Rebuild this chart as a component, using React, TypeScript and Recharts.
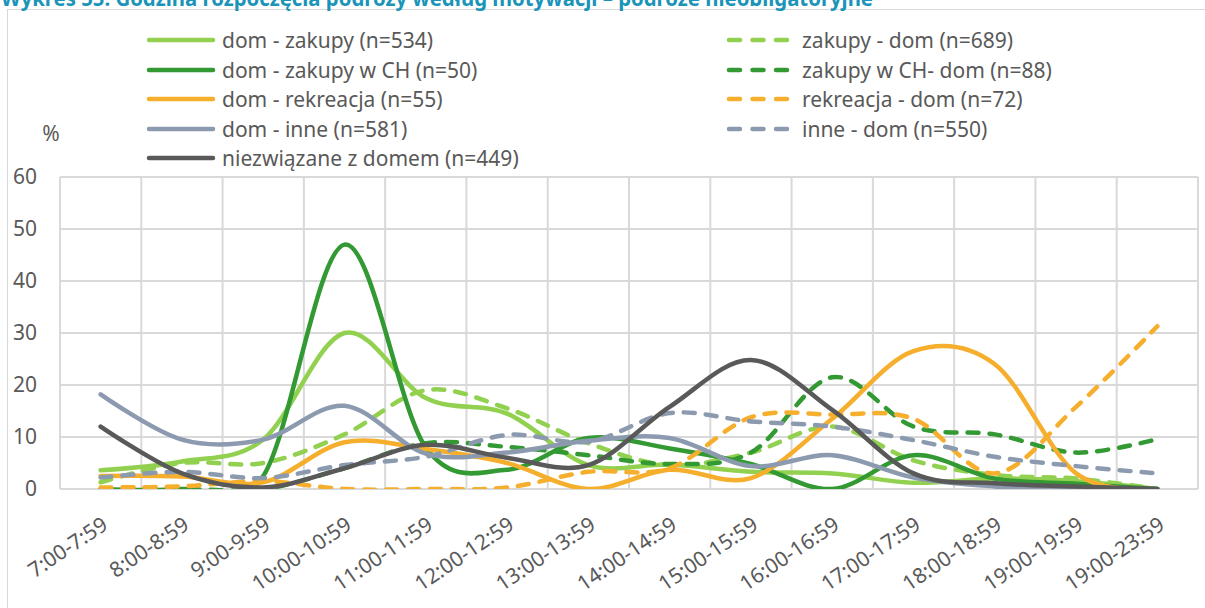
import React from "react";
import { LineChart, Line, XAxis, YAxis, CartesianGrid, Legend } from "recharts";

// Godzina rozpoczęcia podróży według motywacji – podróże nieobligatoryjne (%)
const categories = [
  "7:00-7:59", "8:00-8:59", "9:00-9:59", "10:00-10:59", "11:00-11:59", "12:00-12:59", "13:00-13:59",
  "14:00-14:59", "15:00-15:59", "16:00-16:59", "17:00-17:59", "18:00-18:59", "19:00-19:59", "19:00-23:59",
];

const domZakupy = [3.6, 5.3, 9.5, 30, 17.5, 14.5, 4.6, 4.7, 3.3, 3, 1.2, 2, 1.5, 0];
const zakupyDom = [1.3, 5, 5, 10.5, 19, 15.5, 8.8, 4.6, 7, 12, 5.5, 2.7, 2, 0];
const domZakupyCH = [0, 0, 2.5, 47, 8, 3.7, 9.8, 7.8, 4.8, 0, 6.5, 2, 1, 0];
const zakupyCHDom = [0, 0, 0, 4, 8.8, 8.1, 6.5, 4.8, 7, 21.5, 12, 10.5, 7, 9.6];
const domRekreacja = [2.5, 2.4, 1.3, 9, 7.7, 5, 0, 3.7, 2.1, 13.5, 26.5, 24, 3, 0];
const rekreacjaDom = [0.3, 0.5, 1.5, 0, 0, 0.3, 3.3, 4, 13.8, 14.3, 13.5, 3, 15.8, 31.3];
const domInne = [18.2, 9.5, 9.5, 16, 6.8, 7, 9.3, 9.8, 4.4, 6.5, 2.2, 0.5, 0, 0];
const inneDom = [2.2, 3.3, 2.1, 4.6, 6.2, 10.4, 9.1, 14.6, 13, 12, 9.4, 6.2, 4.4, 3];
const niezwiazane = [12, 3, 0.3, 4, 8.5, 6, 4.6, 15.8, 24.8, 15.2, 3, 1.1, 0.5, 0];

const yTicks = [0, 10, 20, 30, 40, 50, 60];

const LIGHT_GREEN = "#92D050";
const DARK_GREEN = "#339933";
const ORANGE = "#F6AE2D";
const BLUE_GREY = "#8C9AB0";
const DARK_GREY = "#595959";
const TEXT = "#595959";
const FONT = "'Noto Sans', 'Open Sans', sans-serif";

const series = [
  { key: "s1", name: "dom - zakupy (n=534)", color: LIGHT_GREEN, dashed: false, values: domZakupy },
  { key: "s2", name: "zakupy - dom (n=689)", color: LIGHT_GREEN, dashed: true, values: zakupyDom },
  { key: "s3", name: "dom - zakupy w CH (n=50)", color: DARK_GREEN, dashed: false, values: domZakupyCH },
  { key: "s4", name: "zakupy w CH- dom (n=88)", color: DARK_GREEN, dashed: true, values: zakupyCHDom },
  { key: "s5", name: "dom - rekreacja (n=55)", color: ORANGE, dashed: false, values: domRekreacja },
  { key: "s6", name: "rekreacja - dom (n=72)", color: ORANGE, dashed: true, values: rekreacjaDom },
  { key: "s7", name: "dom - inne (n=581)", color: BLUE_GREY, dashed: false, values: domInne },
  { key: "s8", name: "inne - dom (n=550)", color: BLUE_GREY, dashed: true, values: inneDom },
  { key: "s9", name: "niezwiązane z domem (n=449)", color: DARK_GREY, dashed: false, values: niezwiazane },
];

const data = categories.map((cat, i) => {
  const row: Record<string, any> = { cat };
  series.forEach((s) => (row[s.key] = s.values[i]));
  return row;
});

// Excel-like smoothing (Catmull-Rom, tension 0) as a d3 curve factory
function excelSmooth(context: any) {
  let x0 = NaN, y0 = NaN, x1 = NaN, y1 = NaN, x2 = NaN, y2 = NaN, n = 0;
  const k = 1 / 6;
  const seg = (x: number, y: number) =>
    context.bezierCurveTo(x1 + k * (x2 - x0), y1 + k * (y2 - y0), x2 + k * (x1 - x), y2 + k * (y1 - y), x2, y2);
  return {
    areaStart() {},
    areaEnd() {},
    lineStart() {
      x0 = x1 = x2 = y0 = y1 = y2 = NaN;
      n = 0;
    },
    lineEnd() {
      if (n === 2) context.lineTo(x2, y2);
      else if (n === 3) seg(x1, y1);
    },
    point(x: number, y: number) {
      x = +x;
      y = +y;
      if (n === 0) {
        n = 1;
        context.moveTo(x, y);
      } else if (n === 1) {
        n = 2;
        x1 = x;
        y1 = y;
      } else {
        if (n === 2) n = 3;
        seg(x, y);
      }
      x0 = x1; x1 = x2; x2 = x;
      y0 = y1; y1 = y2; y2 = y;
    },
  };
}

const DASH = "11 11";

const XTick = ({ x, y, payload }: any) => {
  const ax = x + 8.5;
  const ay = y + 39;
  return (
    <text x={ax} y={ay} transform={`rotate(-34, ${ax}, ${ay})`} textAnchor="end" fill={TEXT} fontSize={21} fontFamily={FONT}>
      {payload.value}
    </text>
  );
};

// legend drawn in series order (two columns, row by row, like Excel)
const LegendBox = () => (
  <div
    style={{
      display: "grid",
      gridTemplateColumns: "580px 420px",
      marginLeft: 146,
      fontFamily: FONT,
      fontSize: 21,
      color: TEXT,
    }}
  >
    {series.map((s) => (
      <div key={s.key} style={{ display: "flex", alignItems: "center", height: 29.5, whiteSpace: "nowrap" }}>
        <svg width={70} height={10} style={{ marginRight: 6, flex: "none" }}>
          <line
            x1={3}
            y1={5}
            x2={s.dashed ? 62 : 67}
            y2={5}
            stroke={s.color}
            strokeWidth={4.5}
            strokeLinecap="round"
            strokeDasharray={s.dashed ? "11 12.5" : undefined}
          />
        </svg>
        <span>{s.name}</span>
      </div>
    ))}
  </div>
);

export default function App() {
  return (
    <div style={{ position: "absolute", left: 0, top: 0, width: 1205, height: 608, background: "#fff", overflow: "hidden" }}>
      <div
        style={{
          position: "absolute",
          left: 7,
          top: 9,
          width: 1220,
          height: 640,
          border: "1.5px solid #d9d9d9",
        }}
      />
      <svg width={1205} height={608} style={{ position: "absolute", left: 0, top: 0 }}>
        <text x={1} y={5.5} fill="#1A94B8" fontWeight={700} fontSize={22} fontFamily={FONT} textLength={872} lengthAdjust="spacingAndGlyphs">
          Wykres 55. Godzina rozpoczęcia podróży według motywacji – podróże nieobligatoryjne
        </text>
        <text x={51} y={141} textAnchor="middle" fill={TEXT} fontSize={21} fontFamily={FONT}>
          %
        </text>
      </svg>
      <div style={{ position: "absolute", left: 0, top: 0 }}>
        <LineChart width={1205} height={608} data={data} margin={{ top: 177, right: 7, bottom: 0, left: 8 }}>
          <CartesianGrid
            stroke="#d9d9d9"
            strokeWidth={2}
            verticalCoordinatesGenerator={({ offset }: any) =>
              Array.from({ length: categories.length + 1 }, (_, i) => offset.left + (i * offset.width) / categories.length)
            }
          />
          <XAxis
            dataKey="cat"
            interval={0}
            axisLine={false}
            tickLine={false}
            tickSize={0}
            tickMargin={0}
            height={119}
            padding={{ left: 40.64, right: 40.64 }}
            tick={<XTick />}
          />
          <YAxis
            width={52}
            domain={[0, 60]}
            ticks={yTicks}
            allowDataOverflow
            axisLine={false}
            tickLine={false}
            tickSize={0}
            tickMargin={23}
            tick={{ fill: TEXT, fontSize: 21, fontFamily: FONT }}
          />
          <Legend
            layout="horizontal"
            verticalAlign="middle"
            align="center"
            wrapperStyle={{ top: 25.5, left: 0, width: 1205 }}
            content={<LegendBox />}
          />
          {series.map((s) => (
            <Line
              key={s.key}
              dataKey={s.key}
              name={s.name}
              type={excelSmooth as any}
              stroke={s.color}
              strokeWidth={4.5}
              strokeLinecap="round"
              strokeDasharray={s.dashed ? DASH : undefined}
              dot={false}
              activeDot={false}
              isAnimationActive={false}
            />
          ))}
        </LineChart>
      </div>
    </div>
  );
}
